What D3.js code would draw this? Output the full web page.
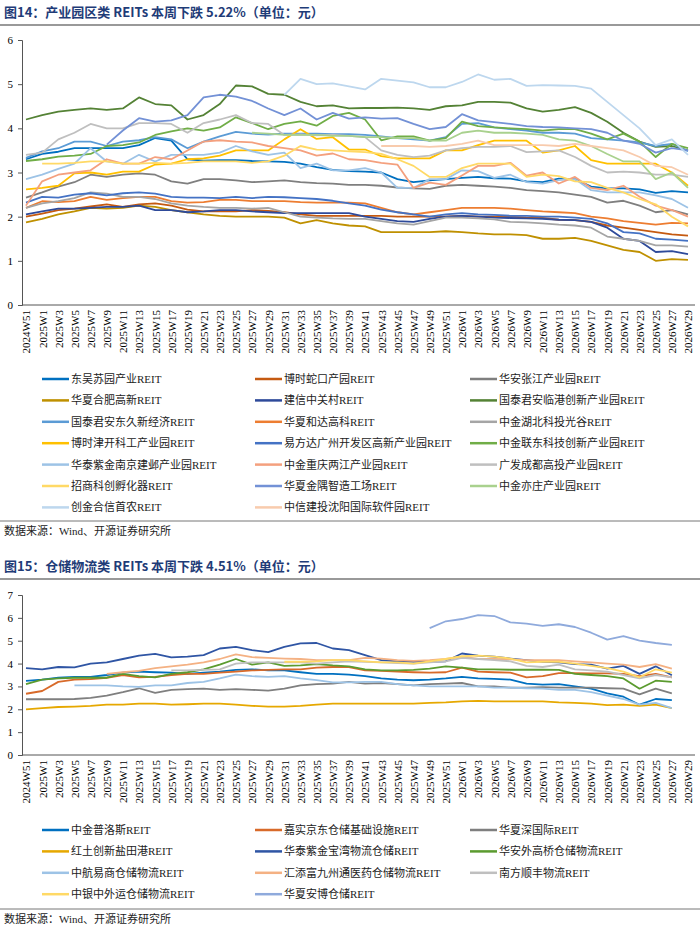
<!DOCTYPE html>
<html><head><meta charset="utf-8">
<script src="https://cdn.jsdelivr.net/npm/d3@7"></script>
<style>body{margin:0;background:#fff}</style>
</head><body>
<svg id="c" width="700" height="938"></svg>
<script>
// ---- tick labels (every 2 weeks) ----
const weeks = ["2024W51"];
for (let w = 1; w <= 51; w += 2) weeks.push("2025W" + w);
for (let w = 1; w <= 29; w += 2) weeks.push("2026W" + w);

// ---- Panel 1: industrial park REITs ----
const names1 = ["东吴苏园产业REIT","博时蛇口产园REIT","华安张江产业园REIT","华夏合肥高新REIT","建信中关村REIT","国泰君安临港创新产业园REIT","国泰君安东久新经济REIT","华夏和达高科REIT","中金湖北科投光谷REIT","博时津开科工产业园REIT","易方达广州开发区高新产业园REIT","中金联东科技创新产业园REIT","华泰紫金南京建邺产业园REIT","中金重庆两江产业园REIT","广发成都高投产业园REIT","招商科创孵化器REIT","华夏金隅智造工场REIT","中金亦庄产业园REIT","创金合信首农REIT","中信建投沈阳国际软件园REIT"];
const colors1 = ["#0070C0","#C55A11","#7F7F7F","#BF9000","#2E4A9A","#548235","#5B9BD5","#ED7D31","#A5A5A5","#FFC000","#4472C4","#70AD47","#9DC3E6","#F4A07E","#BFBFBF","#FFD966","#7391D6","#A9D18E","#BDD7EE","#F8CBAD"];
const N = null;
const s_dongwu = [3.3,3.42,3.47,3.55,3.55,3.55,3.55,3.62,3.78,3.72,3.3,3.27,3.28,3.28,3.26,3.25,3.24,3.2,3.12,3.06,3.03,3.02,3.0,2.85,2.78,2.82,2.85,2.88,2.9,2.87,2.86,2.8,2.78,2.86,2.85,2.68,2.64,2.64,2.62,2.54,2.58,2.55];
const s_shekou = [2.0,2.07,2.15,2.18,2.23,2.28,2.22,2.28,2.3,2.25,2.16,2.12,2.12,2.12,2.15,2.13,2.1,2.05,2.02,2.02,2.02,2.02,2.02,2.0,2.0,2.0,2.0,2.02,2.0,2.0,2.0,1.98,1.97,1.93,1.92,1.88,1.8,1.75,1.7,1.65,1.6,1.57];
const s_zhangjiang = [2.43,2.55,2.68,2.78,2.95,2.9,2.95,2.98,2.95,2.8,2.75,2.85,2.85,2.82,2.78,2.8,2.82,2.78,2.76,2.75,2.72,2.72,2.7,2.66,2.64,2.63,2.7,2.72,2.7,2.68,2.65,2.6,2.58,2.55,2.5,2.45,2.32,2.36,2.25,2.1,2.15,2.05];
const s_hefei = [1.87,1.95,2.05,2.12,2.2,2.18,2.2,2.25,2.22,2.15,2.1,2.05,2.02,2.0,2.0,2.0,1.98,1.85,1.92,1.85,1.8,1.78,1.65,1.65,1.65,1.65,1.67,1.65,1.62,1.6,1.6,1.58,1.5,1.5,1.52,1.45,1.35,1.25,1.2,1.0,1.04,1.02];
const s_zgc = [2.05,2.12,2.18,2.18,2.2,2.22,2.22,2.25,2.15,2.15,2.1,2.12,2.15,2.15,2.12,2.1,2.08,2.08,2.08,2.08,2.08,2.0,1.95,1.9,1.88,1.95,2.0,2.02,2.0,1.98,1.97,1.96,1.95,1.93,1.92,1.88,1.75,1.5,1.45,1.2,1.22,1.15];
const s_lingang = [4.2,4.3,4.38,4.42,4.45,4.42,4.45,4.7,4.55,4.52,4.2,4.3,4.55,4.97,4.95,4.78,4.76,4.6,4.5,4.52,4.45,4.46,4.46,4.47,4.45,4.42,4.5,4.52,4.6,4.6,4.58,4.45,4.38,4.42,4.48,4.35,4.15,3.9,3.7,3.58,3.6,3.5];
const s_dongjiu = [3.33,3.48,3.55,3.7,3.7,3.6,3.7,3.73,3.8,3.75,3.55,3.7,3.82,3.92,3.88,3.86,3.88,3.88,3.88,3.87,3.87,3.85,3.82,3.78,3.75,3.72,3.8,4.1,4.12,4.02,3.98,3.95,3.9,3.9,3.88,3.78,3.75,3.72,3.68,3.6,3.65,3.48];
const s_heda = [2.2,2.35,2.33,2.35,2.45,2.38,2.42,2.45,2.45,2.35,2.32,2.33,2.38,2.38,2.35,2.35,2.35,2.33,2.32,2.32,2.32,2.3,2.2,2.1,2.05,2.1,2.15,2.2,2.2,2.2,2.18,2.15,2.12,2.1,2.08,2.0,1.96,1.9,1.86,1.82,1.86,1.85];
const s_hubei = [2.2,2.3,2.35,2.42,2.55,2.52,2.45,2.45,2.4,2.3,2.25,2.22,2.2,2.2,2.18,2.2,2.1,2.0,1.98,1.96,1.95,1.95,1.9,1.85,1.82,1.9,1.98,1.98,1.96,1.94,1.88,1.87,1.85,1.82,1.8,1.75,1.55,1.5,1.45,1.35,1.35,1.32];
const s_jinkai = [2.62,2.65,2.7,2.98,3.0,2.95,3.02,3.02,3.18,3.2,3.3,3.32,3.38,3.5,3.5,3.5,3.75,3.98,3.76,3.8,3.52,3.52,3.37,3.32,3.32,3.32,3.5,3.5,3.62,3.72,3.72,3.72,3.45,3.5,3.6,3.28,3.2,3.2,3.2,3.2,3.0,2.7];
const s_yifangda = [2.32,2.45,2.43,2.5,2.53,2.48,2.53,2.55,2.52,2.45,2.43,2.43,2.42,2.45,2.42,2.45,2.44,2.42,2.4,2.36,2.3,2.25,2.16,2.1,2.05,2.0,2.05,2.08,2.05,2.04,2.02,2.02,2.0,2.0,1.98,1.95,1.85,1.65,1.62,1.5,1.48,1.45];
const s_liandong = [3.26,3.3,3.36,3.38,3.42,3.6,3.62,3.68,3.85,3.93,4.0,3.95,4.02,4.25,4.12,3.98,4.1,4.16,4.06,4.28,4.35,4.2,3.73,3.82,3.82,3.72,3.78,4.15,4.05,4.02,4.0,3.98,3.95,3.98,3.98,3.88,3.75,3.88,3.7,3.35,3.65,3.55];
const s_jianye = [2.85,2.95,3.08,3.2,3.55,3.25,3.2,3.4,3.25,3.4,3.4,3.4,3.45,3.6,3.48,3.4,3.45,3.1,3.2,3.05,3.05,3.1,3.0,2.65,2.65,2.85,2.85,3.05,3.03,2.88,2.95,2.78,2.75,2.83,2.85,2.6,2.55,2.55,2.55,2.48,2.4,2.2];
const s_liangjiang = [2.25,2.8,2.95,3.0,3.05,3.3,3.2,3.2,3.35,3.3,3.5,3.7,3.73,3.7,3.68,3.6,3.55,3.5,3.38,3.43,3.3,3.28,3.22,3.18,2.65,2.77,2.72,2.93,3.15,3.15,3.22,2.93,3.0,2.75,2.9,2.65,2.6,2.7,2.45,2.25,2.15,2.0];
const s_chengdu = [3.4,3.45,3.75,3.9,4.1,4.0,4.0,4.12,4.12,4.1,3.9,4.12,4.2,4.3,4.12,4.1,3.85,3.86,3.84,3.85,3.83,3.8,3.5,3.4,3.35,3.38,3.5,3.55,3.58,3.58,3.6,3.46,3.48,3.5,3.35,3.15,3.0,3.02,3.0,2.95,2.95,2.9];
const s_fuhua = [N,3.2,3.2,3.22,3.25,3.25,3.2,3.2,3.22,3.2,3.22,3.25,3.25,3.25,3.22,3.25,3.38,3.6,3.52,3.5,3.48,3.46,3.42,3.3,3.15,2.9,2.9,3.1,3.2,3.2,3.2,2.9,2.95,2.92,2.8,2.78,2.65,2.55,2.4,2.28,2.0,1.78];
const s_jinyu = [N,N,N,N,N,3.63,3.95,4.23,4.15,4.18,4.3,4.7,4.76,4.72,4.62,4.45,4.3,4.45,4.2,4.35,4.22,4.25,4.22,4.23,4.1,3.98,4.03,4.32,4.18,4.14,4.1,4.05,4.03,4.02,4.0,3.98,3.9,3.72,3.65,3.45,3.55,3.5];
const s_yizhuang = [N,N,N,N,N,N,N,N,N,N,N,N,N,N,3.9,3.88,3.85,3.85,3.85,3.83,3.83,3.8,3.8,3.78,3.78,3.72,3.72,3.9,3.95,3.9,3.9,3.88,3.85,3.75,3.72,3.6,3.42,3.25,3.25,2.85,3.0,2.65];
const s_shounong = [N,N,N,N,N,N,N,N,N,N,N,N,N,N,N,N,4.76,5.12,5.0,5.02,4.95,4.88,5.12,5.08,5.04,4.93,4.93,5.05,5.22,5.1,5.12,4.96,4.98,4.97,4.96,4.9,4.6,4.3,4.0,3.62,3.75,3.4];
const s_shenyang = [N,N,N,N,N,N,N,N,N,N,N,N,N,N,N,N,N,N,N,N,N,N,3.6,3.6,3.6,3.58,3.6,3.65,3.72,3.62,3.62,3.62,3.62,3.6,3.65,3.6,3.55,3.5,3.35,3.15,3.12,2.95];
const series1 = [s_dongwu,s_shekou,s_zhangjiang,s_hefei,s_zgc,s_lingang,s_dongjiu,s_heda,s_hubei,s_jinkai,s_yifangda,s_liandong,s_jianye,s_liangjiang,s_chengdu,s_fuhua,s_jinyu,s_yizhuang,s_shounong,s_shenyang];
const yTicks1 = [0,1,2,3,4,5,6];

// ---- Panel 2: logistics REITs ----
const names2 = ["中金普洛斯REIT","嘉实京东仓储基础设施REIT","华夏深国际REIT","红土创新盐田港REIT","华泰紫金宝湾物流仓储REIT","华安外高桥仓储物流REIT","中航易商仓储物流REIT","汇添富九州通医药仓储物流REIT","南方顺丰物流REIT","中银中外运仓储物流REIT","华夏安博仓储REIT"];
const colors2 = ["#0070C0","#D86A2A","#7F7F7F","#E6A800","#2F55A4","#5B9B2F","#9DC3E6","#F4B183","#BFBFBF","#FFD966","#8FAADC"];
const l_plss = [3.24,3.3,3.38,3.42,3.42,3.5,3.6,3.65,3.62,3.6,3.55,3.6,3.65,3.72,3.75,3.7,3.7,3.62,3.55,3.55,3.52,3.45,3.35,3.3,3.27,3.3,3.35,3.42,3.35,3.33,3.3,3.12,3.08,3.1,3.0,2.9,2.7,2.55,2.2,2.45,2.4];
const l_jd = [2.68,2.8,3.2,3.3,3.32,3.38,3.5,3.4,3.42,3.5,3.55,3.55,3.6,3.65,3.7,3.72,3.75,3.75,3.82,3.85,3.85,3.7,3.68,3.65,3.62,3.6,3.62,3.82,3.65,3.62,3.6,3.4,3.45,3.58,3.58,3.57,3.57,3.55,3.45,3.55,3.4];
const l_sgj = [2.44,2.44,2.44,2.45,2.5,2.6,2.75,2.92,2.72,2.85,2.88,2.9,2.85,2.88,2.85,2.82,2.9,3.05,3.1,3.12,3.2,3.12,3.15,3.1,3.05,3.1,3.12,3.15,3.0,3.0,2.95,2.95,2.97,2.95,2.95,2.95,2.92,2.9,2.65,2.9,2.7];
const l_ytg = [2.0,2.05,2.1,2.12,2.15,2.2,2.2,2.25,2.25,2.2,2.22,2.25,2.25,2.2,2.15,2.12,2.12,2.15,2.2,2.25,2.25,2.25,2.25,2.25,2.25,2.28,2.3,2.35,2.37,2.35,2.35,2.35,2.35,2.3,2.28,2.25,2.18,2.2,2.15,2.2,2.05];
const l_bw = [3.8,3.75,3.85,3.83,4.0,4.05,4.2,4.35,4.42,4.27,4.3,4.37,4.66,4.73,4.59,4.5,4.73,4.88,4.9,4.66,4.59,4.37,4.15,4.1,4.08,4.08,4.1,4.44,4.35,4.3,4.22,4.15,4.08,4.05,3.98,3.95,3.78,3.9,3.55,3.88,3.49];
const l_wgq = [3.1,3.3,3.35,3.38,3.38,3.38,3.55,3.45,3.4,3.55,3.62,3.75,3.95,4.2,3.95,4.05,3.9,3.92,3.98,3.92,3.88,3.75,3.7,3.7,3.72,3.78,3.88,3.82,3.75,3.75,3.73,3.73,3.73,3.72,3.55,3.5,3.45,3.35,2.9,3.25,3.2];
const l_ys = [N,N,N,3.05,3.05,3.05,3.0,2.98,3.05,3.05,3.15,3.2,3.35,3.52,3.45,3.42,3.45,3.35,3.28,3.18,3.18,3.2,3.2,3.1,3.05,3.0,3.0,3.0,3.0,2.95,2.95,2.92,2.9,2.85,2.85,2.75,2.6,2.45,2.2,2.28,2.05];
const l_jzt = [N,N,N,N,N,3.55,3.62,3.68,3.8,3.88,3.95,4.05,4.2,4.4,4.28,4.25,4.22,4.2,4.15,4.15,4.15,4.25,4.22,4.15,4.12,4.15,4.2,4.3,4.2,4.2,4.18,4.15,4.15,4.15,4.1,4.05,4.0,3.95,3.85,3.98,3.78];
const l_sf = [N,N,N,N,N,N,N,N,N,3.7,3.7,3.72,3.75,4.0,4.05,4.05,4.05,4.05,4.0,4.05,4.1,4.08,4.05,4.02,4.0,4.05,4.1,4.25,4.2,4.15,4.1,3.9,3.85,3.95,3.75,3.7,3.65,3.5,3.35,3.5,3.4];
const l_zwy = [N,N,N,N,N,N,N,N,N,N,N,N,N,N,N,N,4.08,4.08,4.1,4.15,4.15,4.1,4.05,4.05,4.0,4.1,4.2,4.32,4.35,4.3,4.22,4.05,4.08,4.08,4.0,3.9,3.8,3.65,3.4,3.75,3.6];
const l_ab = [N,N,N,N,N,N,N,N,N,N,N,N,N,N,N,N,N,N,N,N,N,N,N,N,N,5.55,5.85,5.95,6.12,6.08,5.8,5.75,5.65,5.72,5.6,5.35,5.05,5.2,5.0,4.9,4.82];
const series2 = [l_plss,l_jd,l_sgj,l_ytg,l_bw,l_wgq,l_ys,l_jzt,l_sf,l_zwy,l_ab];
const yTicks2 = [0,1,2,3,4,5,6,7];

const svg = d3.select("#c");
const serif = "'Liberation Serif','Noto Sans CJK SC',serif";
const cjk = "'Liberation Serif','Noto Sans CJK SC',serif";

function panel(o){
  svg.append("text").attr("x",4).attr("y",o.titleY).attr("font-family","'Noto Sans CJK SC',sans-serif")
    .attr("font-weight","bold").attr("font-size",13).attr("fill","#1F3C78").text(o.title);
  svg.append("line").attr("x1",0).attr("x2",700).attr("y1",o.titleY+8).attr("y2",o.titleY+8).attr("stroke","#777").attr("stroke-width",1.5);
  const x = d3.scalePoint().domain(weeks).range([26,688]);
  const y = d3.scaleLinear().domain([0,o.ymax]).range([o.y0,o.y1]);
  const g = svg.append("g");
  g.append("g").attr("transform",`translate(22,0)`)
    .call(d3.axisLeft(y).tickValues(o.ticks).tickSize(4).tickFormat(d3.format("d")))
    .call(a=>{a.select(".domain").attr("stroke","#555");a.selectAll("line").attr("stroke","#555");
      a.selectAll("text").attr("font-family",serif).attr("font-size",11).attr("fill","#000").attr("x",-9);});
  const xa = g.append("g").attr("transform",`translate(0,${o.y0})`)
    .call(d3.axisBottom(x).tickSize(0).tickSizeOuter(0));
  xa.select(".domain").attr("d",`M22,0H695`).attr("stroke","#555");
  xa.selectAll("text").attr("font-family",serif).attr("font-size",11).attr("fill","#000")
    .attr("transform","rotate(-90)").attr("text-anchor","end").attr("dy","0.35em").attr("x",-5).attr("y",0);
  const line = d3.line().defined(d=>d[1]!=null).x(d=>x(weeks[d[0]])).y(d=>y(d[1]));
  o.series.forEach((s,k)=>{
    g.append("path").datum(s.map((v,i)=>[i,v])).attr("d",line).attr("fill","none")
      .attr("stroke",o.colors[k]).attr("stroke-width",1.8).attr("stroke-linejoin","round");
  });
  const cols=[42,255,470];
  o.names.forEach((n,k)=>{
    const cx=cols[k%3], cy=o.legY+Math.floor(k/3)*o.legDy;
    svg.append("line").attr("x1",cx).attr("x2",cx+27).attr("y1",cy).attr("y2",cy).attr("stroke",o.colors[k]).attr("stroke-width",2.5);
    svg.append("text").attr("x",cx+29).attr("y",cy+4).attr("font-family",cjk).attr("font-size",11).attr("fill","#222").text(n);
  });
  svg.append("line").attr("x1",0).attr("x2",700).attr("y1",o.srcY-14).attr("y2",o.srcY-14).attr("stroke","#777").attr("stroke-width",1);
  svg.append("text").attr("x",4).attr("y",o.srcY).attr("font-family",cjk).attr("font-size",11).attr("fill","#222").text("数据来源：Wind、开源证券研究所");
}

panel({title:"图14：产业园区类 REITs 本周下跌 5.22%（单位：元）",titleY:17,ymax:6,y0:305,y1:40,ticks:yTicks1,
  series:series1,colors:colors1,names:names1,legY:379,legDy:21.4,srcY:535});
panel({title:"图15：仓储物流类 REITs 本周下跌 4.51%（单位：元）",titleY:571,ymax:7,y0:755,y1:595,ticks:yTicks2,
  series:series2,colors:colors2,names:names2,legY:830,legDy:21.4,srcY:923});
</script>
</body></html>
